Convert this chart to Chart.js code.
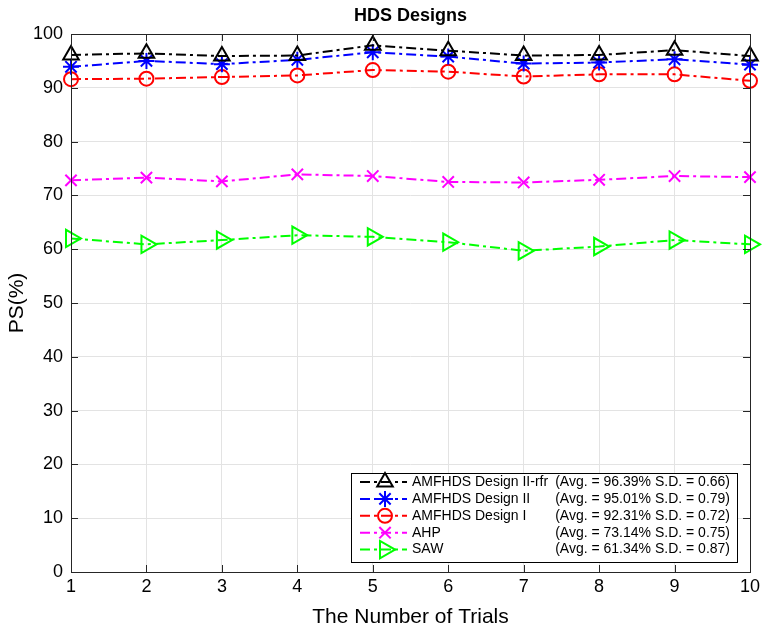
<!DOCTYPE html>
<html>
<head>
<meta charset="utf-8">
<script src="https://cdn.jsdelivr.net/npm/chart.js@4.4.1/dist/chart.umd.min.js"></script>
<style>
  html, body { margin: 0; padding: 0; background: #fff; }
  #wrap { width: 762px; height: 630px; }
</style>
</head>
<body>
<div id="wrap"><canvas id="grafico" width="762" height="630"></canvas></div>
<script>
const trials = [1, 2, 3, 4, 5, 6, 7, 8, 9, 10];
const designIIrfr = [96.1, 96.4, 95.9, 96.0, 97.9, 96.9, 96.0, 96.1, 97.0, 95.9];
const designII = [93.9, 95.0, 94.4, 95.2, 96.6, 95.8, 94.5, 94.7, 95.3, 94.3];
const designI = [91.6, 91.7, 92.0, 92.3, 93.3, 93.0, 92.1, 92.5, 92.5, 91.3];
const ahp = [72.8, 73.3, 72.6, 73.9, 73.6, 72.5, 72.4, 72.9, 73.6, 73.4];
const saw = [62.0, 60.9, 61.7, 62.6, 62.3, 61.3, 59.7, 60.5, 61.7, 60.9];
const seriesNames = ["AMFHDS Design II-rfr", "AMFHDS Design II", "AMFHDS Design I", "AHP", "SAW"];
const seriesStats = [
  "(Avg. = 96.39% S.D. = 0.66)",
  "(Avg. = 95.01% S.D. = 0.79)",
  "(Avg. = 92.31% S.D. = 0.72)",
  "(Avg. = 73.14% S.D. = 0.75)",
  "(Avg. = 61.34% S.D. = 0.87)"
];
const yTicks = [0, 10, 20, 30, 40, 50, 60, 70, 80, 90, 100];

const FONT = "'Liberation Sans', Arial, sans-serif";
const dashDot = [10, 4, 3, 4];

const estilos = [
  { color: "#000000", pointStyle: "triangle", radius: 9, rotation: 0 },
  { color: "#0000ff", pointStyle: "star", radius: 8, rotation: 0 },
  { color: "#ff0000", pointStyle: "circle", radius: 7, rotation: 0 },
  { color: "#ff00ff", pointStyle: "crossRot", radius: 8, rotation: 0 },
  { color: "#00ff00", pointStyle: "triangle", radius: 10, rotation: 90 }
];
const valores = [designIIrfr, designII, designI, ahp, saw];

const datasets = valores.map((vals, i) => ({
  label: seriesNames[i],
  data: trials.map((t, k) => ({ x: t, y: vals[k] })),
  borderColor: estilos[i].color,
  backgroundColor: "rgba(0,0,0,0)",
  borderWidth: 2,
  borderDash: dashDot,
  pointStyle: estilos[i].pointStyle,
  pointRadius: estilos[i].radius,
  pointRotation: estilos[i].rotation,
  pointBorderColor: estilos[i].color,
  pointBackgroundColor: "rgba(0,0,0,0)",
  pointBorderWidth: 2,
  tension: 0,
  clip: false
}));

// box, inner ticks, x labels, title, axis titles and legend (MATLAB look)
const moldura = {
  id: "moldura",
  afterDraw(chart) {
    const ctx = chart.ctx;
    const a = chart.chartArea;
    const xs = chart.scales.x, ys = chart.scales.y;
    ctx.save();
    ctx.strokeStyle = "#262626";
    ctx.lineWidth = 1;
    ctx.beginPath();
    trials.forEach(t => {
      const px = Math.round(xs.getPixelForValue(t)) + 0.5;
      ctx.moveTo(px, a.bottom); ctx.lineTo(px, a.bottom - 7);
      ctx.moveTo(px, a.top); ctx.lineTo(px, a.top + 7);
    });
    yTicks.forEach(v => {
      const py = Math.round(ys.getPixelForValue(v)) + 0.5;
      ctx.moveTo(a.left, py); ctx.lineTo(a.left + 7, py);
      ctx.moveTo(a.right, py); ctx.lineTo(a.right - 7, py);
    });
    ctx.stroke();
    ctx.strokeRect(Math.round(a.left) + 0.5, Math.round(a.top) + 0.5,
      Math.round(a.right - a.left), Math.round(a.bottom - a.top));

    // x tick labels
    ctx.fillStyle = "#000";
    ctx.font = "18px " + FONT;
    ctx.textAlign = "center";
    ctx.textBaseline = "top";
    trials.forEach(t => ctx.fillText(String(t), xs.getPixelForValue(t), a.bottom + 6));

    // title
    ctx.textBaseline = "middle";
    ctx.font = "bold 18px " + FONT;
    ctx.fillText("HDS Designs", (a.left + a.right) / 2, 16);

    // axis titles
    ctx.font = "21px " + FONT;
    ctx.fillText("The Number of Trials", (a.left + a.right) / 2, 617);
    ctx.save();
    ctx.translate(17, (a.top + a.bottom) / 2);
    ctx.rotate(-Math.PI / 2);
    ctx.fillText("PS(%)", 0, 0);
    ctx.restore();

    // legend
    const lx = 351, ly = 473, lw = 386, lh = 89;
    ctx.fillStyle = "#fff";
    ctx.fillRect(lx, ly, lw, lh);
    ctx.strokeStyle = "#000";
    ctx.strokeRect(lx + 0.5, ly + 0.5, lw, lh);
    ctx.font = "14px " + FONT;
    ctx.textBaseline = "middle";
    estilos.forEach((e, i) => {
      const y = 482 + i * 16.9;
      ctx.strokeStyle = e.color;
      ctx.lineWidth = 2;
      ctx.setLineDash(dashDot);
      ctx.beginPath();
      ctx.moveTo(360, y); ctx.lineTo(407, y);
      ctx.stroke();
      ctx.setLineDash([]);
      ctx.fillStyle = "rgba(0,0,0,0)";
      Chart.helpers.drawPoint(ctx, {
        pointStyle: e.pointStyle, radius: e.radius, rotation: e.rotation, borderWidth: 2
      }, 385, y);
      ctx.fillStyle = "#000";
      ctx.textAlign = "left";
      ctx.fillText(seriesNames[i], 412, y);
      ctx.textAlign = "right";
      ctx.fillText(seriesStats[i], 730, y);
    });
    ctx.restore();
  }
};

new Chart(document.getElementById("grafico").getContext("2d"), {
  type: "line",
  data: { datasets: datasets },
  options: {
    responsive: false,
    animation: false,
    layout: { padding: { top: 34, right: 8, left: 0, bottom: 0 } },
    plugins: {
      legend: { display: false },
      title: { display: false },
      tooltip: { enabled: false }
    },
    scales: {
      x: {
        type: "linear",
        min: 1,
        max: 10,
        afterFit: (s) => { s.height = 58; },
        afterBuildTicks: (s) => { s.ticks = trials.map(v => ({ value: v })); },
        grid: { color: "#e3e3e3", lineWidth: 1, drawTicks: false },
        border: { display: false },
        ticks: { display: false, autoSkip: false }
      },
      y: {
        min: 0,
        max: 100,
        afterFit: (s) => { s.width = 71; s.paddingTop = 0; s.paddingBottom = 0; },
        afterBuildTicks: (s) => { s.ticks = yTicks.map(v => ({ value: v })); },
        grid: { color: "#e3e3e3", lineWidth: 1, drawTicks: false },
        border: { display: false },
        ticks: { color: "#000", font: { family: FONT, size: 18 }, padding: 8, autoSkip: false }
      }
    }
  },
  plugins: [moldura]
});
</script>
</body>
</html>
